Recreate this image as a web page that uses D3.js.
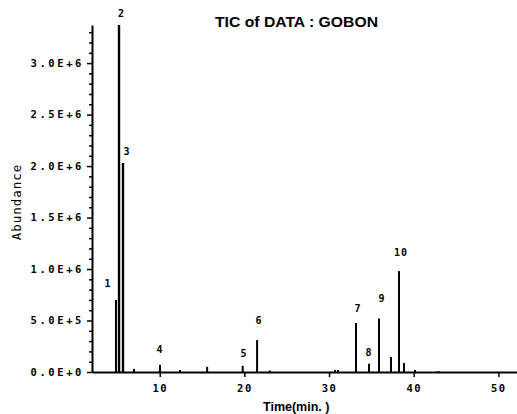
<!DOCTYPE html>
<html>
<head>
<meta charset="utf-8">
<script src="https://cdn.jsdelivr.net/npm/d3@7"></script>
<style>
  body { margin: 0; background: #fff; }
  svg { display: block; }
</style>
</head>
<body>
<div id="chart"></div>
<script>
var width = 517;
var height = 414;

// retention time (min) and abundance of each spike in the TIC
var peakTimes = [4.83, 5.19, 5.66, 6.96, 10.03, 12.4, 15.6, 19.8, 21.5, 23.0, 30.7, 31.06, 33.18, 34.72, 35.9, 37.32, 38.26, 38.85, 40.15, 42.9];
var peakHeights = [700000, 3370000, 2030000, 30000, 70000, 20000, 50000, 60000, 310000, 15000, 20000, 20000, 476000, 80000, 520000, 146000, 980000, 87000, 20000, 10000];

// numbered peak annotations, anchored in data units
var labelText = ["1", "2", "3", "4", "5", "6", "7", "8", "9", "10"];
var labelTimes = [3.89, 5.48, 6.13, 10.03, 19.95, 21.72, 33.42, 34.72, 36.25, 38.5];
var labelHeights = [855000, 3477000, 2146000, 214000, 175000, 505000, 612000, 194000, 709000, 1165000];

var yTicks = [0, 500000, 1000000, 1500000, 2000000, 2500000, 3000000];
var yTickLabels = ["0.0E+0", "5.0E+5", "1.0E+6", "1.5E+6", "2.0E+6", "2.5E+6", "3.0E+6"];
var xTicks = [10, 20, 30, 40, 50];

margin = { top: 25, right: 0, bottom: 42, left: 92 };

var x = d3.scaleLinear()
  .domain([2, 52.2])
  .range([margin.left, width - margin.right]);

var y = d3.scaleLinear()
  .domain([0, 3370000])
  .range([height - margin.bottom, margin.top]);

var svg = d3.select("#chart")
  .append("svg")
  .attr("width", width)
  .attr("height", height);

svg.append("text")
  .attr("x", 215)
  .attr("y", 27)
  .attr("font-family", "Liberation Sans, Arial, sans-serif")
  .attr("font-weight", "bold")
  .attr("font-size", 15)
  .attr("textLength", 163)
  .attr("lengthAdjust", "spacingAndGlyphs")
  .text("TIC of DATA : GOBON");

// minor ticks on the y axis
var minor = d3.range(100000, 3370000, 100000).filter((d) => d % 500000 !== 0);
svg.append("g")
  .attr("transform", `translate(${margin.left},0)`)
  .call(d3.axisLeft(y).tickValues(minor).tickSize(3).tickFormat(""))
  .call((g) => g.select(".domain").remove())
  .selectAll("line")
  .attr("stroke-width", 1.5);

var yAxis = svg.append("g")
  .attr("transform", `translate(${margin.left},0)`)
  .call(d3.axisLeft(y)
    .tickValues(yTicks)
    .tickSize(5)
    .tickSizeOuter(0)
    .tickPadding(3)
    .tickFormat((d, i) => yTickLabels[i]));

yAxis.select(".domain").attr("stroke-width", 2);
yAxis.selectAll("line").attr("stroke-width", 1.5);
yAxis.selectAll("text")
  .attr("font-family", "DejaVu Sans Mono, monospace")
  .attr("font-weight", "bold")
  .attr("font-size", 10.5)
  .attr("letter-spacing", 2.6)
  .attr("fill", "#000");

var xAxis = svg.append("g")
  .attr("transform", `translate(0,${height - margin.bottom})`)
  .call(d3.axisBottom(x)
    .tickValues(xTicks)
    .tickSize(5)
    .tickSizeOuter(0)
    .tickPadding(8)
    .tickFormat(d3.format("d")));

xAxis.select(".domain").attr("stroke-width", 2);
xAxis.selectAll("line").attr("stroke-width", 1.5);
xAxis.selectAll("text")
  .attr("font-family", "DejaVu Sans Mono, monospace")
  .attr("font-weight", "bold")
  .attr("font-size", 10.5)
  .attr("letter-spacing", 1.5)
  .attr("fill", "#000");

svg.append("text")
  .attr("transform", `translate(21,${202}) rotate(-90)`)
  .attr("text-anchor", "middle")
  .attr("font-family", "DejaVu Sans Mono, monospace")
  .attr("font-size", 12.5)
  .attr("letter-spacing", 1)
  .text("Abundance");

svg.append("text")
  .attr("x", 263)
  .attr("y", 411)
  .attr("font-family", "Liberation Sans, Arial, sans-serif")
  .attr("font-weight", "bold")
  .attr("font-size", 12.5)
  .text("Time(min. )");

var peaks = peakTimes.map((t, i) => ({ t: t, a: peakHeights[i] }));

svg.append("g")
  .selectAll("line")
  .data(peaks)
  .join("line")
  .attr("x1", (d) => x(d.t))
  .attr("x2", (d) => x(d.t))
  .attr("y1", y(0))
  .attr("y2", (d) => y(d.a))
  .attr("stroke", "#000")
  .attr("stroke-width", (d) => d.a > 1500000 ? 2.4 : 2);

var labels = labelText.map((s, i) => ({ s: s, t: labelTimes[i], a: labelHeights[i] }));

svg.append("g")
  .selectAll("text")
  .data(labels)
  .join("text")
  .attr("x", (d) => x(d.t))
  .attr("y", (d) => y(d.a))
  .attr("dy", "0.35em")
  .attr("text-anchor", "middle")
  .attr("font-family", "DejaVu Sans Mono, monospace")
  .attr("font-weight", "bold")
  .attr("font-size", 10)
  .attr("letter-spacing", 1)
  .text((d) => d.s);
</script>
</body>
</html>
